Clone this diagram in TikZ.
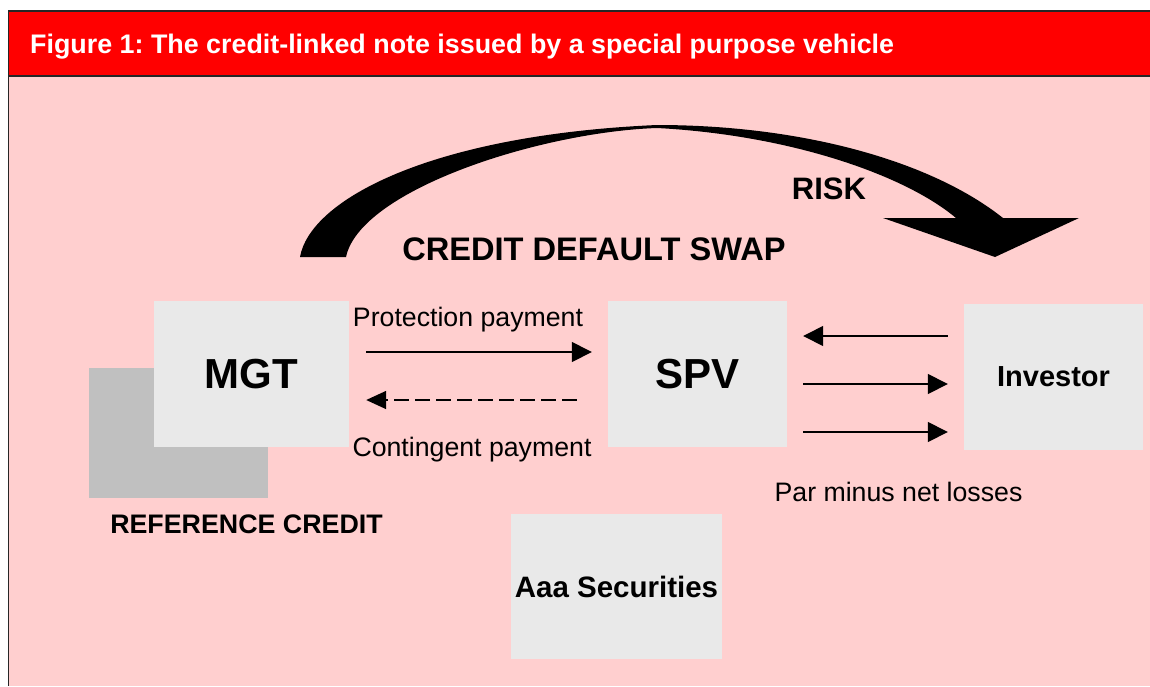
\documentclass[tikz,border=0pt]{standalone}
\usepackage{fontspec}
\setmainfont{Liberation Sans}
\usetikzlibrary{arrows.meta}
\definecolor{hdrred}{HTML}{FF0000}
\definecolor{bgpink}{HTML}{FFCFCF}
\definecolor{boxgray}{HTML}{E9E9E9}
\definecolor{refgray}{HTML}{C0C0C0}
\frenchspacing
\begin{document}
\begin{tikzpicture}[x=1pt,y=-1pt,
  box/.style={fill=boxgray, draw=none, inner sep=0pt},
  lbl/.style={anchor=base, inner sep=0pt, font={\fontsize{26.7}{30}\selectfont}},
  blbl/.style={anchor=base, inner sep=0pt, font={\fontsize{#1}{#1}\selectfont\bfseries}},
  arr/.style={line width=1.5pt, -{Triangle[length=20pt,width=20pt]}},
  dasharr/.style={line width=1.6pt, dash pattern=on 15pt off 6pt, -{Triangle[length=20pt,width=18pt]}}]
\useasboundingbox (0,0) rectangle (1150,686);
% frame
\fill[bgpink] (8.5,11) rectangle (1150,686);
\fill[hdrred] (8.5,11) rectangle (1150,76);
\draw[line width=1.5pt, black!85] (1150,11) -- (8.5,11) -- (8.5,686);
\draw[line width=1.5pt, black!85] (8.5,76) -- (1150,76);
\node[anchor=base west, inner sep=0pt, text=white, font={\fontsize{26.85}{30}\selectfont\bfseries}] (title) at (30,53) {Figure 1: The credit-linked note issued by a special purpose vehicle};
% big risk arrow
\fill[black] (300,257) .. controls (310,200) and (430,135) .. (657,125)
  .. controls (800,125) and (930,160) .. (1003,218)
  -- (1079,218) -- (995,257) -- (883,218) -- (956,218)
  .. controls (905,175) and (790,135) .. (657,128)
  .. controls (540,132) and (360,190) .. (346,257) -- cycle;
\node[blbl=31] (risk) at (829,199) {RISK};
\node[blbl=32.6] (cds) at (594,260) {CREDIT DEFAULT SWAP};
% boxes
\node[fill=refgray, inner sep=0pt, minimum width=179pt, minimum height=130pt] (ref) at (178.5,433) {};
\node[box, minimum width=195pt, minimum height=146pt, font={\fontsize{42}{46}\selectfont\bfseries}] (MGT) at (251.5,374) {MGT};
\node[box, minimum width=179pt, minimum height=146pt, font={\fontsize{42}{46}\selectfont\bfseries}] (SPV) at (697.5,374) {SPV};
\node[box, minimum width=179pt, minimum height=146pt, font={\fontsize{29}{32}\selectfont\bfseries}] (Investor) at (1053.5,377) {Investor};
\node[box, minimum width=211pt, minimum height=145pt, font={\fontsize{29.5}{32}\selectfont\bfseries}] (Aaa) at (616.5,586.5) {Aaa Securities};
\node[blbl=26.8] (refl) at (246.5,533) {REFERENCE CREDIT};
% labels
\node[lbl] (prot) at (468,326) {Protection payment};
\node[lbl] (cont) at (472,456) {Contingent payment};
\node[lbl] (par) at (898.5,501) {Par minus net losses};
% connectors MGT <-> SPV
\coordinate (p1) at ([yshift=22pt]MGT.east);
\draw[arr, shorten <=17pt, shorten >=16pt] (p1) -- (p1 -| SPV.west);
\coordinate (p2) at ([yshift=-26pt]SPV.west);
\draw[dasharr, shorten <=31pt, shorten >=17pt] (p2) -- (p2 -| MGT.east);
% connectors SPV <-> Investor
\coordinate (i1) at ([yshift=41pt]Investor.west);
\draw[arr, shorten <=16pt, shorten >=16pt] (i1) -- (i1 -| SPV.east);
\coordinate (i2) at ([yshift=-7pt]Investor.west);
\draw[arr, shorten <=16pt, shorten >=16pt] (i2 -| SPV.east) -- (i2);
\coordinate (i3) at ([yshift=-55pt]Investor.west);
\draw[arr, shorten <=16pt, shorten >=16pt] (i3 -| SPV.east) -- (i3);
\end{tikzpicture}
\end{document}
